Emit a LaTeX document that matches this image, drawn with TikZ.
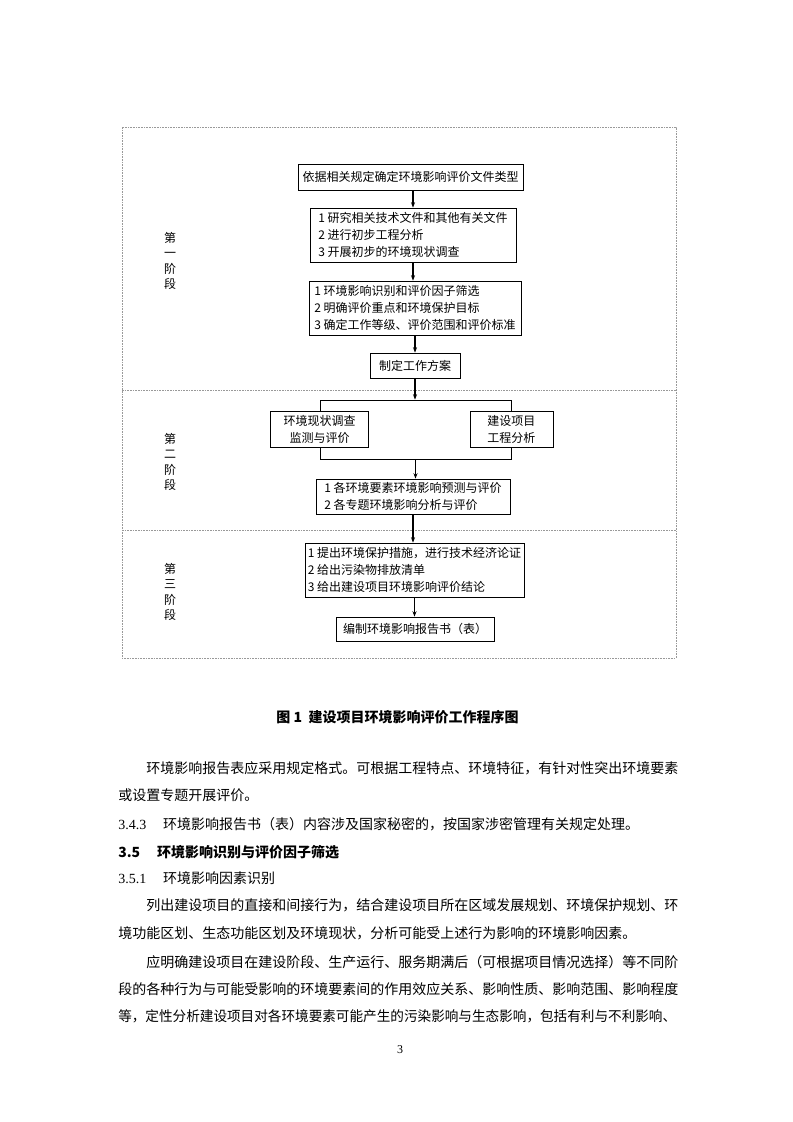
\documentclass[tikz,border=0pt]{standalone}
\usepackage{fontspec}
\setmainfont{Liberation Serif}
\newfontfamily\cjk{Noto Sans CJK SC}
\usepackage{graphicx}
\usetikzlibrary{arrows.meta, positioning}

\begin{document}
\begin{tikzpicture}[x=0.75pt, y=-0.75pt,
    box/.style={draw, line width=0.6pt, fill=white, align=left, inner sep=0pt, font=\cjk\fontsize{9}{12.75}\selectfont},
    stage/.style={align=center, inner sep=0pt, font=\cjk\fontsize{9}{11.5}\selectfont},
    frame/.style={draw=gray!80, line width=0.4pt, dash pattern=on 1.2pt off 0.8pt},
    arrow/.style={-{Stealth[length=4pt, width=3pt]}, line width=0.8pt},
    body/.style={anchor=base west, inner sep=0pt, font=\cjk\fontsize{10.5}{13}\selectfont},
]
\useasboundingbox (0,0) rectangle (793,1122);

% 外框与阶段分隔
\draw[frame] (122,127) rectangle (676,658);
\draw[frame] (122,390) -- (676,390);
\draw[frame] (122,530) -- (676,530);

% 阶段标签
\node[stage] (stage1) at (170,261) {第\\一\\阶\\段};
\node[stage] (stage2) at (170,462) {第\\二\\阶\\段};
\node[stage] (stage3) at (170,592) {第\\三\\阶\\段};

% 第一阶段
\node[box, minimum width=168.75pt, minimum height=19.5pt] (type) at (410.5,177)
    {依据相关规定确定环境影响评价文件类型};
\node[box, minimum width=154.5pt, minimum height=40.5pt] (study) at (413,235)
    {1 研究相关技术文件和其他有关文件\\2 进行初步工程分析\\3 开展初步的环境现状调查};
\node[box, minimum width=159pt, minimum height=40.5pt] (ident) at (415,308)
    {1 环境影响识别和评价因子筛选\\2 明确评价重点和环境保护目标\\3 确定工作等级、评价范围和评价标准};
\node[box, minimum width=67.5pt, minimum height=18.75pt] (plan) at (415,365.5) {制定工作方案};

\draw[arrow] (study.north |- type.south) -- (study.north);
\draw[arrow] (study.south) -- (study.south |- ident.north);
\draw[arrow] (plan.north |- ident.south) -- (plan.north);

% 第二阶段
\node[draw, line width=0.6pt, minimum width=143.25pt, minimum height=44.25pt, inner sep=0pt] (bracket) at (415.5,429.5) {};
\node[box, align=center, minimum width=73.5pt, minimum height=27pt] (survey) at (bracket.west)
    {环境现状调查\\监测与评价};
\node[box, align=center, minimum width=62.25pt, minimum height=27pt] (project) at (bracket.east)
    {建设项目\\工程分析};
\node[box, minimum width=145.5pt, minimum height=26.25pt] (predict) at (413,496.5)
    {1 各环境要素环境影响预测与评价\\2 各专题环境影响分析与评价};

\draw[arrow] (plan.south) -- (plan.south |- bracket.north);
\draw[arrow] (bracket.south) -- (bracket.south |- predict.north);

% 第三阶段
\node[box, minimum width=164.25pt, minimum height=40.5pt] (measure) at (414.5,570)
    {1 提出环境保护措施，进行技术经济论证\\2 给出污染物排放清单\\3 给出建设项目环境影响评价结论};
\node[box, minimum width=118.5pt, minimum height=18pt] (report) at (415,629)
    {编制环境影响报告书（表）};

\draw[arrow] (predict.south) -- (predict.south |- measure.north);
\draw[arrow] (measure.south) -- (measure.south |- report.north);

% 图题
\node[font=\cjk\bfseries\fontsize{10.5}{12}\selectfont] (caption) at (397.5,717)
    {图 1\ \ 建设项目环境影响评价工作程序图};

% 正文
\node[body] (line1) at (118,773) {\hspace*{21pt}环境影响报告表应采用规定格式。可根据工程特点、环境特征，有针对性突出环境要素};
\node[body] (line2) at (118,800) {或设置专题开展评价。};
\node[body] (line3) at (118,829) {{\rmfamily 3.4.3}\hspace{1.2em}环境影响报告书（表）内容涉及国家秘密的，按国家涉密管理有关规定处理。};
\node[body, font=\cjk\bfseries\fontsize{10.5}{13}\selectfont] (line4) at (118,857) {3.5\hspace{1.2em}环境影响识别与评价因子筛选};
\node[body] (line5) at (118,883) {{\rmfamily 3.5.1}\hspace{1.2em}环境影响因素识别};
\node[body] (line6) at (118,910) {\hspace*{21pt}列出建设项目的直接和间接行为，结合建设项目所在区域发展规划、环境保护规划、环};
\node[body] (line7) at (118,938) {境功能区划、生态功能区划及环境现状，分析可能受上述行为影响的环境影响因素。};
\node[body] (line8) at (118,967) {\hspace*{21pt}应明确建设项目在建设阶段、生产运行、服务期满后（可根据项目情况选择）等不同阶};
\node[body] (line9) at (118,994) {段的各种行为与可能受影响的环境要素间的作用效应关系、影响性质、影响范围、影响程度};
\node[body] (line10) at (118,1021) {\scalebox{0.972}[1]{等，定性分析建设项目对各环境要素可能产生的污染影响与生态影响，包括有利与不利影响、}};

% 页码
\node[font=\fontsize{9}{10}\selectfont] (page) at (400,1050) {3};

\end{tikzpicture}
\end{document}
